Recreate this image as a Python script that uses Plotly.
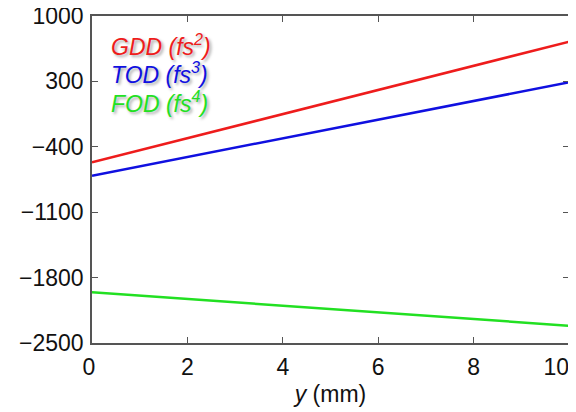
import plotly.graph_objects as go

y_mm = [0, 2, 4, 6, 8, 10]
gdd = [-566, -308, -50, 209, 467, 725]
tod = [-709, -509, -309, -110, 90, 290]
fod = [-1957, -2029, -2100, -2172, -2243, -2315]

y_ticks = [1000, 300, -400, -1100, -1800, -2500]
y_tick_text = ["1000", "300", "\u2212400", "\u22121100", "\u22121800", "\u22122500"]
x_ticks = [0, 2, 4, 6, 8, 10]
x_tick_text = ["0\u00a0", "2", "4", "6", "8", "10\u00a0\u00a0\u00a0\u00a0"]

series = [("GDD", gdd, "#ee1c1c", "2"), ("TOD", tod, "#1010e0", "3"), ("FOD", fod, "#22e022", "4")]

fig = go.Figure()
for name, vals, col, p in series:
    fig.add_trace(go.Scatter(x=y_mm, y=vals, mode="lines", line=dict(color=col, width=2.5), name=name,
                             showlegend=False))

leg_y = [0.911, 0.826, 0.7385]
for i, (name, vals, col, p) in enumerate(series):
    fig.add_annotation(x=0.036, y=leg_y[i], xref="paper", yref="paper", xanchor="left", yanchor="middle",
                       text=f"<i>{name} (fs<sup>{p}</sup>)</i>", showarrow=False,
                       font=dict(family="Liberation Sans, Arial", size=23, color=col,
                                 shadow="2px 2px 3px rgba(0,0,0,0.35)"))

axis_common = dict(showline=True, linecolor="#555", linewidth=1.5, mirror="ticks", ticks="inside",
                   ticklen=6, tickcolor="#555", showgrid=False, zeroline=False, automargin=False,
                   ticklabeloverflow="allow",
                   tickfont=dict(family="Liberation Sans, Arial", size=23, color="#111"))

fig.update_xaxes(range=[0, 10], tickvals=x_ticks, ticktext=x_tick_text, ticklabelstandoff=3,
                 title=dict(text="<i>y</i> (mm)", standoff=7,
                            font=dict(family="Liberation Sans, Arial", size=23, color="#111")), **axis_common)
fig.update_yaxes(range=[-2500, 1000], tickvals=y_ticks, ticktext=y_tick_text, ticklabelstandoff=2,
                 **axis_common)

fig.update_layout(width=568, height=404, margin=dict(l=84, r=7, t=8, b=69),
                  plot_bgcolor="white", paper_bgcolor="white")

fig.write_html("out.html")
